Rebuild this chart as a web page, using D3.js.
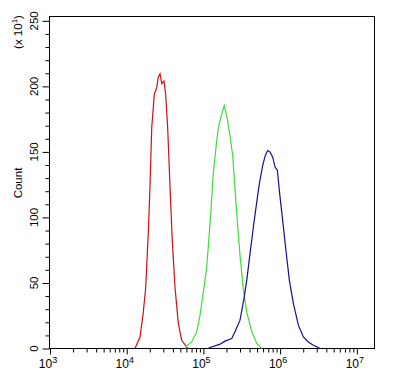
<!DOCTYPE html>
<html>
<head>
<meta charset="utf-8">
<script src="https://cdn.jsdelivr.net/npm/d3@7"></script>
<style>
  body { margin: 0; background: #fff; }
  text { font-family: "Liberation Sans", Arial, sans-serif; fill: #000; }
</style>
</head>
<body>
<div class="container"></div>
<script>
// intensity (FL) / count (x10)
var redX = [12800, 14900, 16400, 17700, 19100, 20100, 21200, 22900, 24600, 25800, 27200, 28600, 30600, 32200, 34200, 36700, 39300, 42600, 47100, 52100, 60600, 64000];
var redY = [0, 8.6, 26.9, 46.7, 88, 123, 168.5, 194, 199, 207, 209.5, 202, 204, 194, 168.5, 123, 82, 46.7, 19, 6.3, 1, 0];

var greenX = [58000, 60500, 70400, 81800, 90300, 99800, 110000, 118000, 126000, 135000, 145000, 156000, 169000, 187000, 201000, 222000, 241000, 258000, 277000, 300000, 331000, 367000, 427000, 496000, 547000, 581000];
var greenY = [0, 2, 5, 12.7, 25.4, 43, 61, 84, 107, 134.6, 152, 168, 176.5, 185.4, 177.8, 162.5, 147, 122, 96.5, 71, 45.7, 28, 12.7, 3.8, 1.2, 0];

var blueX = [115000, 122000, 165000, 191000, 234000, 258000, 300000, 338000, 367000, 405000, 448000, 486000, 536000, 593000, 641000, 689000, 738000, 801000, 859000, 920000, 998000, 1080000, 1190000, 1320000, 1490000, 1730000, 2010000, 2330000, 2710000, 3150000, 3310000];
var blueY = [0, 0.8, 3.3, 5.6, 7.6, 12.7, 21.6, 38, 52, 72.4, 92.7, 108, 125.7, 139.7, 147.3, 151, 150, 146, 138.4, 136, 115.5, 97.8, 75, 52, 34.3, 17.8, 8.8, 5, 2.5, 0.8, 0];

var xMajor = [1e3, 1e4, 1e5, 1e6, 1e7];
var xExp = ["3", "4", "5", "6", "7"];
var yMajor = [0, 50, 100, 150, 200, 250];

var width = 393, height = 377;
var pLeft = 49.5, pRight = 374.5, pTop = 16.5, pBottom = 348.5;

var svg = d3.select('.container').append('svg')
    .attr('width', width).attr('height', height)
    .style('background', '#fff');

var x = d3.scaleLog().domain([985, 17000000]).range([pLeft, pRight]);
var y = d3.scaleLinear().domain([0, 253.3]).range([pBottom, pTop]);

// minor x ticks
var xMinor = [];
for (var e = 3; e < 8; e++) {
  for (var m = 2; m < 10; m++) {
    var v = m * Math.pow(10, e);
    if (v < 17000000) xMinor.push(v);
  }
}
svg.append('g').attr('transform', 'translate(0,' + pBottom + ')')
  .call(d3.axisBottom(x).tickValues(xMinor).tickSize(4).tickFormat(''))
  .call(function(g) { g.select('.domain').remove(); });
svg.append('g').attr('transform', 'translate(0,' + pBottom + ')')
  .call(d3.axisBottom(x).tickValues(xMajor).tickSize(6).tickFormat(''))
  .call(function(g) { g.select('.domain').remove(); });

var yMinor = d3.range(0, 251, 10).filter(function(d) { return d % 50 != 0; });
svg.append('g').attr('transform', 'translate(' + pLeft + ',0)')
  .call(d3.axisLeft(y).tickValues(yMinor).tickSize(4).tickFormat(''))
  .call(function(g) { g.select('.domain').remove(); });
svg.append('g').attr('transform', 'translate(' + pLeft + ',0)')
  .call(d3.axisLeft(y).tickValues(yMajor).tickSize(7).tickFormat(''))
  .call(function(g) { g.select('.domain').remove(); });

svg.selectAll('.tick line').attr('stroke', '#000');

// frame
svg.append('rect')
  .attr('x', pLeft).attr('y', pTop)
  .attr('width', pRight - pLeft).attr('height', pBottom - pTop)
  .attr('fill', 'none').attr('stroke', '#000').attr('stroke-width', 1);

// x labels
var xl = svg.selectAll('.xl').data(xMajor).enter().append('text')
  .attr('class', 'xl')
  .attr('x', function(d) { return x(d) - 2; })
  .attr('y', 368)
  .attr('text-anchor', 'middle')
  .style('font-size', '12px');
xl.append('tspan').text('10');
xl.append('tspan').attr('dy', -5).style('font-size', '9px')
  .text(function(d, i) { return xExp[i]; });

// y labels
svg.selectAll('.yl').data(yMajor).enter().append('text')
  .attr('class', 'yl')
  .attr('transform', function(d) { return 'translate(38,' + y(d) + ') rotate(-90)'; })
  .attr('text-anchor', 'middle')
  .style('font-size', '11.5px')
  .text(function(d) { return d; });

svg.append('text')
  .attr('transform', 'translate(22,183) rotate(-90)')
  .attr('text-anchor', 'middle')
  .style('font-size', '11.5px')
  .text('Count');

var mult = svg.append('text')
  .attr('transform', 'translate(22,32) rotate(-90)')
  .attr('text-anchor', 'middle')
  .style('font-size', '11.5px');
mult.append('tspan').text('(x 10');
mult.append('tspan').attr('dy', -5).style('font-size', '8px').text('1');
mult.append('tspan').attr('dy', 5).text(')');

// curves
var line = d3.line()
  .x(function(d) { return x(d[0]); })
  .y(function(d) { return y(d[1]); });

var series = [
  {xs: redX, ys: redY, color: '#cc1111'},
  {xs: greenX, ys: greenY, color: '#3ddc3d'},
  {xs: blueX, ys: blueY, color: '#10109a'}
];

svg.selectAll('path.curve').data(series).enter().append('path')
  .attr('class', 'curve')
  .attr('fill', 'none')
  .attr('stroke', function(d) { return d.color; })
  .attr('stroke-width', 1.2)
  .attr('d', function(d) { return line(d3.zip(d.xs, d.ys)); });
</script>
</body>
</html>
